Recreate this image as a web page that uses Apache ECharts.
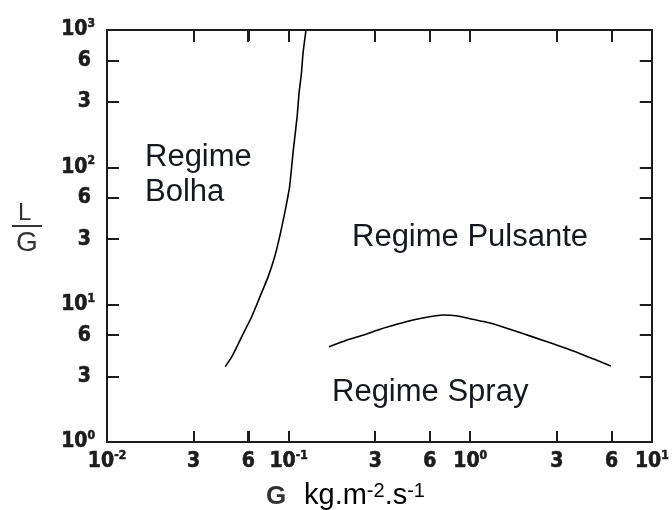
<!DOCTYPE html>
<html>
<head>
<meta charset="utf-8">
<script src="https://cdn.jsdelivr.net/npm/echarts@6/dist/echarts.min.js"></script>
<style>
  html, body { margin: 0; padding: 0; background: #fff; }
  #chart { width: 672px; height: 510px; }
</style>
</head>
<body>
<div id="chart"></div>
<script>
// Regime boundary: bubble (Bolha) / pulsing (Pulsante)
const bolhaG = [0.0448, 0.0487, 0.0552, 0.0626, 0.0695, 0.0772, 0.0839, 0.0893, 0.0943, 0.0983, 0.1013, 0.1062, 0.1114, 0.1142, 0.1177, 0.1201, 0.1247];
const bolhaLG = [3.54, 4.18, 5.85, 8.17, 11.4, 16.0, 22.4, 31.3, 43.7, 57.8, 72.3, 134, 233, 348, 486, 680, 1000];

// Regime boundary: pulsing (Pulsante) / spray
const sprayG = [0.167, 0.210, 0.259, 0.319, 0.394, 0.485, 0.597, 0.707, 0.835, 1.03, 1.27, 1.50, 1.93, 2.48, 3.18, 3.92, 4.83, 5.95];
const sprayLG = [4.94, 5.53, 6.01, 6.62, 7.19, 7.73, 8.17, 8.41, 8.31, 7.83, 7.39, 6.91, 6.19, 5.53, 4.94, 4.47, 4.00, 3.58];

// Tick positions and their printed labels ("a^b" = a with superscript b)
const xTickValues = [0.01, 0.03, 0.06, 0.1, 0.3, 0.6, 1, 3, 6, 10];
const xTickLabels = ['10^-2', '3', '6', '10^-1', '3', '6', '10^0', '3', '6', '10^1'];
const yTickValues = [1, 3, 6, 10, 30, 60, 100, 300, 600, 1000];
const yTickLabels = ['10^0', '3', '6', '10^1', '3', '6', '10^2', '3', '6', '10^3'];

const regionLabels = [
  { text: 'Regime\nBolha', x: 145, y: 140 },
  { text: 'Regime Pulsante', x: 352, y: 222 },
  { text: 'Regime Spray', x: 332, y: 377 }
];

const W = 672, H = 510;
const gridBox = { left: 107, right: 14, top: 30, bottom: 68 };
const tickFont = "'Liberation Sans Narrow', 'DejaVu Sans Condensed', 'DejaVu Sans', sans-serif";
const ink = '#1c1c1c';

// Both axes are logarithmic: work in decades (log10 of the value)
const lg = v => Math.log10(v);
const xTickPos = xTickValues.map(lg);
const yTickPos = yTickValues.map(lg);
const xMin = lg(xTickValues[0]), xMax = lg(xTickValues[xTickValues.length - 1]);
const yMin = lg(yTickValues[0]), yMax = lg(yTickValues[yTickValues.length - 1]);

function richLabel(positions, labels) {
  return function (value) {
    let idx = 0, best = Infinity;
    positions.forEach((p, i) => {
      const d = Math.abs(p - value);
      if (d < best) { best = d; idx = i; }
    });
    const lab = labels[idx];
    if (lab.indexOf('^') >= 0) {
      const parts = lab.split('^');
      return '{b|' + parts[0] + '}{s|' + parts[1] + '}';
    }
    return '{d|' + lab + '}';
  };
}

function richStyles(digitPad) {
  const heavy = { fontWeight: 'bold', fontFamily: tickFont, color: ink, textBorderColor: ink, textBorderWidth: 0.6 };
  return {
    b: Object.assign({ fontSize: 21, lineHeight: 24 }, heavy),
    s: Object.assign({ fontSize: 12, verticalAlign: 'top', lineHeight: 12 }, heavy),
    d: Object.assign({ fontSize: 21, lineHeight: 24, padding: digitPad }, heavy)
  };
}

const tickLen = 11;
const tickStyle = { color: ink, width: 2 };
const frameLine = { show: true, onZero: false, lineStyle: { color: ink, width: 2 } };

const chart = echarts.init(document.getElementById('chart'), null, { renderer: 'canvas' });

const graphics = regionLabels.map(r => ({
  type: 'text',
  x: r.x,
  y: r.y,
  style: {
    text: r.text,
    font: "31px 'Liberation Sans', Arial, sans-serif",
    fill: '#16181f',
    lineHeight: r.text.indexOf('\n') >= 0 ? 35 : 30,
    textVerticalAlign: 'top',
    textAlign: 'left'
  }
}));

// y-axis title: L over G
graphics.push(
  { type: 'text', x: 18, y: 201, style: { text: 'L', font: "24px 'Liberation Sans', Arial, sans-serif", fill: '#333', lineHeight: 24, textVerticalAlign: 'top' } },
  { type: 'line', shape: { x1: 12, y1: 226, x2: 42, y2: 226 }, style: { stroke: '#333', lineWidth: 2 } },
  { type: 'text', x: 16, y: 229, style: { text: 'G', font: "28px 'Liberation Sans', Arial, sans-serif", fill: '#333', lineHeight: 28, textVerticalAlign: 'top' } }
);

// x-axis title: G  kg.m-2.s-1
graphics.push(
  { type: 'text', x: 266, y: 484, style: { text: 'G', font: "bold 26px 'Liberation Sans', Arial, sans-serif", fill: '#333', lineHeight: 26, textVerticalAlign: 'top' } },
  {
    type: 'text', x: 304, y: 481,
    style: {
      text: '{a|kg.m}{s|-2}{a|.s}{p|-1}',
      textVerticalAlign: 'top',
      rich: {
        a: { fontSize: 29, fontFamily: "'Liberation Sans', Arial, sans-serif", color: '#1d2a57', lineHeight: 30 },
        s: { fontSize: 20, fontFamily: "'Liberation Sans', Arial, sans-serif", color: '#1d2a57', verticalAlign: 'top', lineHeight: 18 },
        p: { fontSize: 20, fontFamily: "'Liberation Sans', Arial, sans-serif", color: '#5a2d82', verticalAlign: 'top', lineHeight: 18 }
      }
    }
  }
);

const option = {
  backgroundColor: '#fff',
  animation: false,
  grid: gridBox,
  xAxis: [
    {
      type: 'value', min: xMin, max: xMax, position: 'bottom',
      axisLine: frameLine, splitLine: { show: false },
      axisTick: { show: true, inside: true, length: tickLen, customValues: xTickPos, lineStyle: tickStyle },
      axisLabel: { show: true, margin: 8, customValues: xTickPos, formatter: richLabel(xTickPos, xTickLabels), rich: richStyles([0, 0, 0, 0]) }
    },
    {
      type: 'value', min: xMin, max: xMax, position: 'top',
      axisLine: frameLine, splitLine: { show: false },
      axisTick: { show: true, inside: true, length: tickLen, customValues: xTickPos, lineStyle: tickStyle },
      axisLabel: { show: false, customValues: xTickPos }
    }
  ],
  yAxis: [
    {
      type: 'value', min: yMin, max: yMax, position: 'left',
      axisLine: frameLine, splitLine: { show: false },
      axisTick: { show: true, inside: true, length: 12, customValues: yTickPos, lineStyle: tickStyle },
      axisLabel: { show: true, margin: 12, customValues: yTickPos, formatter: richLabel(yTickPos, yTickLabels), rich: richStyles([0, 4, 0, 0]) }
    },
    {
      type: 'value', min: yMin, max: yMax, position: 'right',
      axisLine: frameLine, splitLine: { show: false },
      axisTick: { show: true, inside: true, length: 12, customValues: yTickPos, lineStyle: tickStyle },
      axisLabel: { show: false, customValues: yTickPos }
    }
  ],
  series: [
    {
      name: 'Bolha / Pulsante',
      type: 'line',
      xAxisIndex: 0, yAxisIndex: 0,
      data: bolhaG.map((g, i) => [lg(g), lg(bolhaLG[i])]),
      showSymbol: false, smooth: 0.2,
      lineStyle: { color: '#000', width: 1.6 }
    },
    {
      name: 'Pulsante / Spray',
      type: 'line',
      xAxisIndex: 0, yAxisIndex: 0,
      data: sprayG.map((g, i) => [lg(g), lg(sprayLG[i])]),
      showSymbol: false, smooth: 0.2,
      lineStyle: { color: '#000', width: 1.6 }
    }
  ]
};

chart.setOption(option);

// Map a (decade, decade) point to pixels through the cartesian; fall back to the grid box
function toPx(xv, yv) {
  let p = null;
  try { p = chart.convertToPixel({ xAxisIndex: 0, yAxisIndex: 0 }, [xv, yv]); } catch (e) { p = null; }
  if (!p || !isFinite(p[0]) || !isFinite(p[1])) {
    const plotW = W - gridBox.left - gridBox.right;
    const plotH = H - gridBox.top - gridBox.bottom;
    p = [
      gridBox.left + (xv - xMin) / (xMax - xMin) * plotW,
      H - gridBox.bottom - (yv - yMin) / (yMax - yMin) * plotH
    ];
  }
  return p;
}

// Inward tick marks on the bottom and top frame edges, as thin filled bars on their own layer
xTickPos.forEach(v => {
  const pb = toPx(v, yMin);
  const pt = toPx(v, yMax);
  const px = Math.round(pb[0]);
  graphics.push(
    { type: 'rect', zlevel: 1, z: 100, shape: { x: px - 1, y: Math.round(pb[1]) - tickLen, width: 2, height: tickLen }, style: { fill: ink } },
    { type: 'rect', zlevel: 1, z: 100, shape: { x: px - 1, y: Math.round(pt[1]), width: 2, height: tickLen + 1 }, style: { fill: ink } }
  );
});

chart.setOption({ graphic: graphics });
</script>
</body>
</html>
